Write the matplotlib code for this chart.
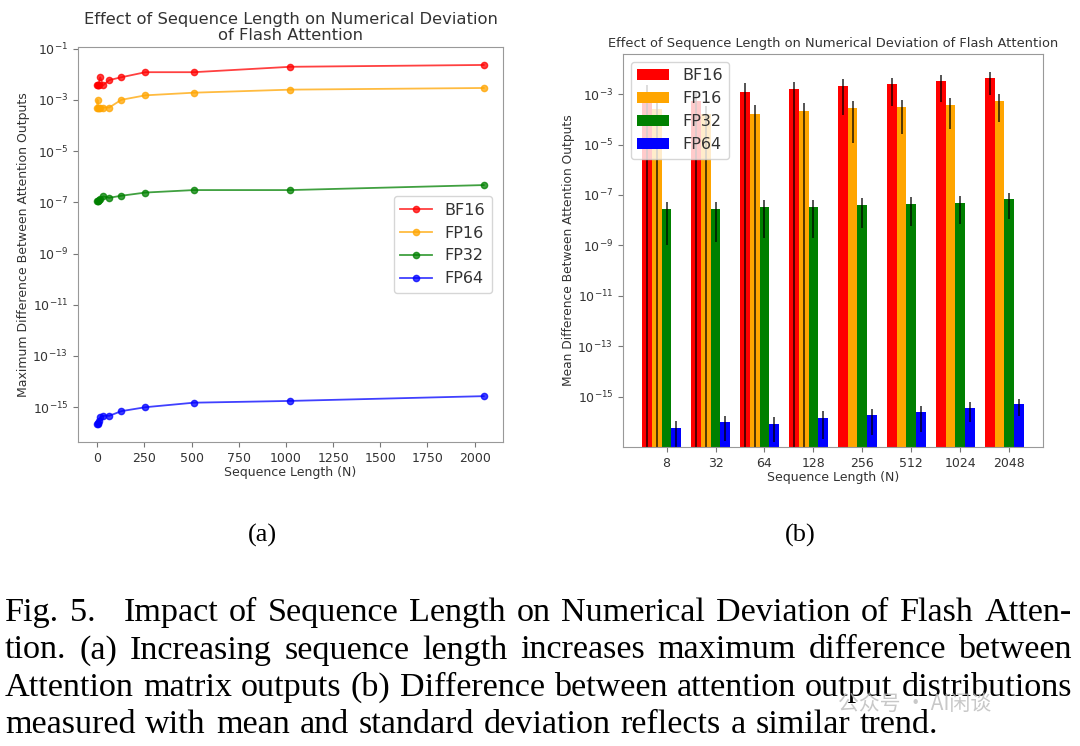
import numpy as np
import matplotlib
matplotlib.use('Agg')
import matplotlib.pyplot as plt
from matplotlib.ticker import LogFormatterSciNotation, NullLocator

# (a) maximum difference vs sequence length
seq_len = [1, 2, 4, 8, 16, 32, 64, 128, 256, 512, 1024, 2048]
max_bf16 = [3.7e-3, 3.7e-3, 3.7e-3, 3.7e-3, 7.6e-3, 3.7e-3, 5.9e-3, 7.6e-3, 1.2e-2, 1.2e-2, 1.95e-2, 2.3e-2]
max_fp16 = [5e-4, 1e-3, 5e-4, 5e-4, 5e-4, 5e-4, 5e-4, 1e-3, 1.5e-3, 1.9e-3, 2.5e-3, 2.9e-3]
max_fp32 = [1.1e-7, 1.1e-7, 1.1e-7, 1.2e-7, 1.4e-7, 1.7e-7, 1.5e-7, 1.8e-7, 2.4e-7, 3.0e-7, 3.0e-7, 4.7e-7]
max_fp64 = [2.2e-16, 2.2e-16, 2.5e-16, 2.9e-16, 4.0e-16, 4.6e-16, 4.6e-16, 7.0e-16, 1.0e-15, 1.5e-15, 1.76e-15, 2.7e-15]

# (b) mean difference with std, per sequence length
bar_lens = ['8', '32', '64', '128', '256', '512', '1024', '2048']
mean_bf16 = [9e-4, 5.5e-4, 1.2e-3, 1.55e-3, 2.15e-3, 2.44e-3, 3.2e-3, 4.3e-3]
std_bf16 = [1.5e-3, 6e-4, 1.6e-3, 1.6e-3, 2.0e-3, 2.1e-3, 2.7e-3, 3.4e-3]
mean_fp16 = [2.5e-4, 1.6e-4, 1.7e-4, 2.1e-4, 2.7e-4, 3.1e-4, 3.6e-4, 5.4e-4]
std_fp16 = [2.7e-4, 1.8e-4, 1.9e-4, 2.2e-4, 2.58e-4, 2.85e-4, 3.2e-4, 4.6e-4]
mean_fp32 = [2.7e-8, 2.8e-8, 3.3e-8, 3.3e-8, 3.9e-8, 4.5e-8, 4.8e-8, 6.7e-8]
std_fp32 = [2.6e-8, 2.66e-8, 3.1e-8, 3.1e-8, 3.4e-8, 3.9e-8, 4.1e-8, 5.6e-8]
mean_fp64 = [5.6e-17, 9.6e-17, 8.3e-17, 1.4e-16, 1.8e-16, 2.35e-16, 3.5e-16, 4.9e-16]
std_fp64 = [5.4e-17, 7.8e-17, 6.7e-17, 1.2e-16, 1.5e-16, 1.95e-16, 2.5e-16, 3.2e-16]

names = ['BF16', 'FP16', 'FP32', 'FP64']
colors = ['red', 'orange', 'green', 'blue']

caption = [
    'Fig. 5.  Impact of Sequence Length on Numerical Deviation of Flash Atten-',
    'tion. (a) Increasing sequence length increases maximum difference between',
    'Attention matrix outputs (b) Difference between attention output distributions',
    'measured with mean and standard deviation reflects a similar trend.',
]

W, H = 1080, 746
txt = '#333333'
plt.rcParams['font.family'] = 'DejaVu Sans'
plt.rcParams['text.color'] = txt
plt.rcParams['axes.labelcolor'] = txt
plt.rcParams['xtick.color'] = '#777777'
plt.rcParams['ytick.color'] = '#777777'
plt.rcParams['xtick.labelcolor'] = txt
plt.rcParams['ytick.labelcolor'] = txt
plt.rcParams['axes.edgecolor'] = '#999999'

fig = plt.figure(figsize=(W / 100, H / 100), dpi=100)


def axes_px(l, t, r, b):
    return fig.add_axes([l / W, 1 - b / H, (r - l) / W, (b - t) / H])


# ---- (a) line plot
ax1 = axes_px(78, 47, 503, 442)
series = [max_bf16, max_fp16, max_fp32, max_fp64]
for vals, c, n in zip(series, colors, names):
    ax1.plot(seq_len, vals, color=c, alpha=0.75, lw=1.3, marker='o', ms=4.5,
             markerfacecolor=c, markeredgecolor=c, label=n)
ax1.set_yscale('log')
ax1.set_yticks([10.0 ** e for e in range(-15, 0, 2)])
ax1.yaxis.set_major_formatter(LogFormatterSciNotation())
ax1.yaxis.set_minor_locator(NullLocator())
ax1.set_xticks(range(0, 2001, 250))
ax1.tick_params(labelsize=9)
ax1.set_xlabel('Sequence Length (N)', fontsize=9, labelpad=1)
ax1.set_ylabel('Maximum Difference Between Attention Outputs', fontsize=9, labelpad=2)
ax1.set_title('Effect of Sequence Length on Numerical Deviation\nof Flash Attention',
              fontsize=11.8, pad=5, linespacing=1.1)
ax1.legend(loc='center right', fontsize=11.5, borderaxespad=0.7)

# ---- (b) bar plot with error bars
ax2 = axes_px(623, 54, 1043, 447)
x = np.arange(len(bar_lens))
w = 0.2
means = [mean_bf16, mean_fp16, mean_fp32, mean_fp64]
stds = [std_bf16, std_fp16, std_fp32, std_fp64]
for i, (m, s, c, n) in enumerate(zip(means, stds, colors, names)):
    ax2.bar(x + (i - 2) * w, m, width=w, color=c, yerr=s, label=n,
            error_kw=dict(ecolor='black', elinewidth=1.1, alpha=0.85))
ax2.set_yscale('log')
ax2.set_ylim(1e-17, 3.9e-2)
ax2.set_yticks([10.0 ** e for e in range(-15, -2, 2)])
ax2.yaxis.set_major_formatter(LogFormatterSciNotation())
ax2.yaxis.set_minor_locator(NullLocator())
ax2.set_xticks(x)
ax2.set_xticklabels(bar_lens)
ax2.tick_params(labelsize=9)
ax2.set_xlabel('Sequence Length (N)', fontsize=9, labelpad=1)
ax2.set_ylabel('Mean Difference Between Attention Outputs', fontsize=8.8, labelpad=2)
ax2.set_title('Effect of Sequence Length on Numerical Deviation of Flash Attention',
              fontsize=9.4, pad=5)
ax2.legend(loc='upper left', fontsize=11.5, borderaxespad=0.5)

# ---- sub-figure labels and caption
serif = 'Liberation Serif'
fig.text(262 / W, 1 - 535 / H, '(a)', family=serif, fontsize=19, ha='center', va='center', color='black')
fig.text(800 / W, 1 - 535 / H, '(b)', family=serif, fontsize=19, ha='center', va='center', color='black')

renderer = fig.canvas.get_renderer()
probe = fig.text(0, 0, caption[2], family=serif, fontsize=20)
cap_size = 20 * 1062 / probe.get_window_extent(renderer).width
probe.remove()

x0, x1 = 5, 1072
baselines = [621, 658.5, 696, 733]
for k, (line, yb) in enumerate(zip(caption, baselines)):
    words = [wd for wd in line.split(' ') if wd]
    if line.startswith('Fig. 5.'):
        words = ['Fig.', '5.\u2002'] + words[2:]
    objs = [fig.text(0, 1 - yb / H, wd, family=serif, fontsize=cap_size,
                     va='baseline', color='black') for wd in words]
    widths = [o.get_window_extent(renderer).width for o in objs]
    if k < len(caption) - 1:
        gap = (x1 - x0 - sum(widths)) / (len(words) - 1)
    else:
        # last line is not justified: natural word spacing
        sp = fig.text(0, 0, 'a a', family=serif, fontsize=cap_size)
        sp2 = fig.text(0, 0, 'aa', family=serif, fontsize=cap_size)
        gap = 1.15 * (sp.get_window_extent(renderer).width - sp2.get_window_extent(renderer).width)
        sp.remove()
        sp2.remove()
    xp = x0
    for o, wd in zip(objs, widths):
        o.set_x(xp / W)
        xp += wd + gap

# faint watermark
fig.text(838 / W, 1 - 704 / H, '公众号 · AI闲谈', family=['Noto Sans CJK SC', 'DejaVu Sans'],
         fontsize=15, color='#bbbbbb', alpha=0.8, va='center')

fig.savefig('out.png', dpi=100)
